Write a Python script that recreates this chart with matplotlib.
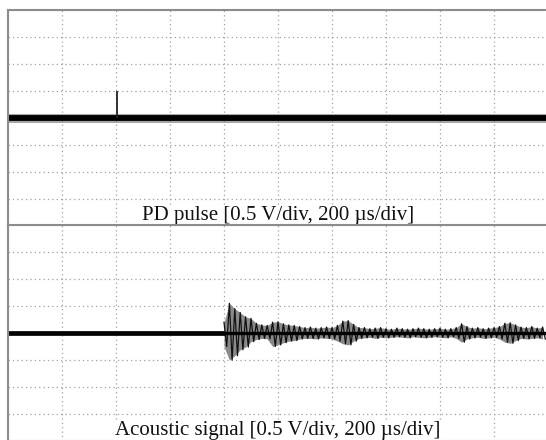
import matplotlib.pyplot as plt
import numpy as np

# oscilloscope settings: 0.5 V/div, 200 us/div, 10 x 8 divisions
t_max = 2000.0   # us
v_max = 2.0      # V

# PD pulse (top trace)
pd_t = [0, 2000]
pd_v = [0, 0]
spike_t = 403
spike_peak = 0.50

# acoustic signal (bottom trace): flat until arrival, then burst
ac_flat_t = [0, 804]
ac_flat_v = [0, 0]
ac_t = [800, 820, 840, 860, 880, 900, 920, 940, 960, 980,
        1000, 1020, 1040, 1060, 1080, 1100, 1120, 1140, 1160, 1180,
        1200, 1220, 1240, 1260, 1280, 1300, 1320, 1340, 1360, 1380,
        1400, 1420, 1440, 1460, 1480, 1500, 1520, 1540, 1560, 1580,
        1600, 1620, 1640, 1660, 1680, 1700, 1720, 1740, 1760, 1780,
        1800, 1820, 1840, 1860, 1880, 1900, 1920, 1940, 1960, 1980]
ac_hi = [0.20, 0.55, 0.45, 0.38, 0.30, 0.27, 0.18, 0.15, 0.14, 0.20,
         0.21, 0.17, 0.15, 0.14, 0.12, 0.10, 0.11, 0.09, 0.10, 0.11,
         0.10, 0.14, 0.22, 0.23, 0.16, 0.10, 0.10, 0.08, 0.09, 0.10,
         0.08, 0.07, 0.09, 0.08, 0.07, 0.08, 0.09, 0.08, 0.07, 0.08,
         0.09, 0.07, 0.08, 0.10, 0.17, 0.12, 0.09, 0.10, 0.08, 0.09,
         0.10, 0.12, 0.18, 0.19, 0.15, 0.11, 0.10, 0.12, 0.09, 0.11]
ac_lo = [-0.25, -0.50, -0.42, -0.31, -0.26, -0.16, -0.12, -0.10, -0.11, -0.25,
         -0.22, -0.18, -0.15, -0.14, -0.11, -0.10, -0.10, -0.11, -0.09, -0.10,
         -0.11, -0.15, -0.20, -0.22, -0.15, -0.10, -0.09, -0.08, -0.10, -0.08,
         -0.09, -0.08, -0.07, -0.08, -0.09, -0.07, -0.08, -0.09, -0.08, -0.07,
         -0.08, -0.09, -0.07, -0.10, -0.17, -0.11, -0.09, -0.08, -0.10, -0.09,
         -0.08, -0.11, -0.17, -0.19, -0.14, -0.10, -0.11, -0.10, -0.09, -0.11]

labels = ['PD pulse [0.5 V/div, 200 \u00b5s/div]',
          'Acoustic signal [0.5 V/div, 200 \u00b5s/div]']

plt.rcParams['font.family'] = ['Liberation Serif', 'DejaVu Serif']

fig = plt.figure(figsize=(5.46, 4.40), dpi=100)
W, H = 546.0, 440.0
ax1 = fig.add_axes([8 / W, 214 / H, 540 / W, 216 / H])
ax2 = fig.add_axes([8 / W, -1 / H, 540 / W, 216 / H])

for ax in (ax1, ax2):
    ax.set_xlim(0, t_max)
    ax.set_ylim(-v_max, v_max)
    ax.set_xticks(np.arange(0, t_max + 1, 200))
    ax.set_yticks(np.arange(-v_max, v_max + 0.01, 0.5))
    ax.tick_params(length=0, labelleft=False, labelbottom=False)
    ax.grid(True, linestyle=(0, (1, 2.5)), linewidth=0.9, color='#a0a0a0')
    for s in ax.spines.values():
        s.set_color('#8c8c8c')
        s.set_linewidth(1.5)
    ax.spines['right'].set_visible(False)

# top trace
ax1.plot(pd_t, pd_v, color='black', lw=6.5, alpha=0.35, solid_capstyle='butt')
ax1.plot(pd_t, pd_v, color='black', lw=4.2, solid_capstyle='butt')
ax1.vlines(spike_t, 0, spike_peak, color='#222222', lw=1.3)

# bottom trace
ax2.plot(ac_flat_t, ac_flat_v, color='black', lw=3.4, solid_capstyle='butt')
ax2.fill_between(ac_t, ac_lo, ac_hi, color='#8a8a8a', lw=0)
zig_t = []
zig_v = []
for t, hi, lo in zip(ac_t, ac_hi, ac_lo):
    zig_t += [t, t + 10]
    zig_v += [hi, lo]
ax2.plot(zig_t, zig_v, color='#111111', lw=0.9)
ax2.plot([ac_t[0], t_max], [0, 0], color='black', lw=2.4, solid_capstyle='butt')

for ax, lab in zip((ax1, ax2), labels):
    ax.text(0.5, 6 / 216, lab, transform=ax.transAxes, ha='center', va='baseline',
            fontsize=15, color='#111111',
            bbox=dict(facecolor='white', edgecolor='none', pad=1.0))

fig.savefig('out.png', dpi=100)
